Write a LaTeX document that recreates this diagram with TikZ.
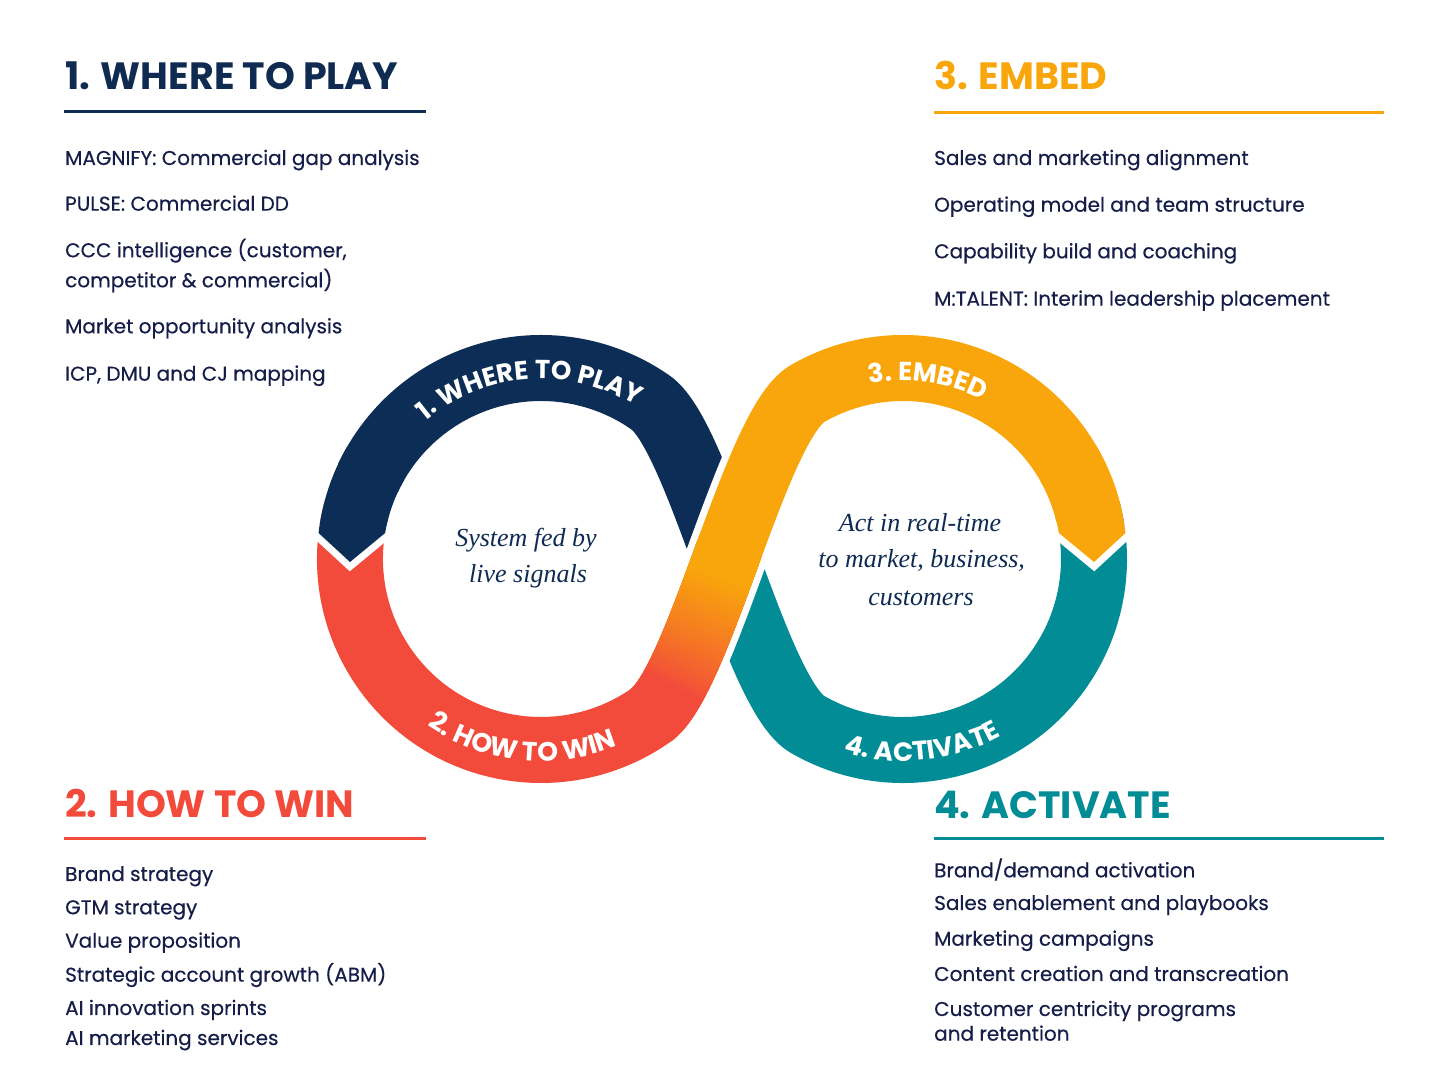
\documentclass[tikz,border=0pt]{standalone}
\usepackage{fontspec}
\newfontfamily\pop{Poppins}
\newfontfamily\popm{Poppins}[FakeBold=0.35]
\newfontfamily\serit{Liberation Serif}
\usetikzlibrary{decorations.text,calc}
\definecolor{navy}{HTML}{0C2D56}
\definecolor{rd}{HTML}{F24A3B}
\definecolor{orng}{HTML}{F9A60C}
\definecolor{teal2}{HTML}{028C95}
\definecolor{ink}{HTML}{151D48}
\definecolor{hnavy}{HTML}{0F2B52}
\newcommand\ringfont{\pop\bfseries\fontsize{26}{26}\selectfont}
\newcommand\ringfontb{\pop\bfseries\fontsize{26.5}{26}\selectfont}
\begin{document}
\begin{tikzpicture}[x=1pt,y=1pt,line cap=butt,
  ring/.style={line width=66pt},
  notch/.style={white,line width=14pt,line join=miter},
  head/.style={anchor=base west,inner sep=0pt,font=\pop\bfseries\fontsize{38}{38}\selectfont},
  item/.style={anchor=base west,inner sep=0pt,font=\popm\fontsize{20}{20}\selectfont,text=ink},
  centertxt/.style={anchor=base,inner sep=0pt,font=\serit\itshape\fontsize{26}{26}\selectfont,text=hnavy},
  ringtxt/.style={decorate,decoration={text along path,text align=center,text color=white,text={#1}}}]
\useasboundingbox (0,0) rectangle (1448,1086);
\fill[white] (0,0) rectangle (1448,1086);
\coordinate (L) at (541,527);
\coordinate (R) at (903,527);
% under path
\draw[ring,navy] ($(L)+(155:191)$) arc[start angle=155,end angle=55,radius=191]
  .. controls (675.13,666.24) and (701.37,593.27) .. (727.97,520.86);
\draw[ring,teal2] (727.97,520.86) .. controls (754.57,448.45) and (781.52,376.59) .. (807.5,361.59)
  arc[start angle=240,end angle=375,radius=191];
% gap
\draw[line width=80pt,white] (650.55,370.54) .. controls (699.70,404.98) and (755.54,662.41) .. (807.5,692.41);
% orange
\draw[ring,orng] (650.55,370.54) .. controls (699.70,404.98) and (755.54,662.41) .. (807.5,692.41)
  arc[start angle=120,end angle=12,radius=191];
% red
\draw[ring,rd] ($(L)+(165:191)$) arc[start angle=165,end angle=305,radius=191]
  .. controls (675.13,387.76) and (701.37,460.73) .. (727.97,533.14);
% gradient
\foreach \k in {0,...,52}{
  \pgfmathsetmacro\t{\k*0.01}
  \path (650.55,370.54) .. controls (699.70,404.98) and (755.54,662.41) .. (807.5,692.41) coordinate[pos=\t] (g\k);
}
\foreach \k in {0,...,50}{
  \pgfmathtruncatemacro\ka{\k+1}
  \pgfmathtruncatemacro\kb{\k+2}
  \pgfmathtruncatemacro\f{max(0,min(100,(\k-14)*10/3))}
  \draw[ring,line join=round,color=orng!\f!rd] (g\k)--(g\ka)--(g\kb);
}
% chevrons
\coordinate (ntip) at (350,524);
\coordinate (noc) at (318.52,553);
\coordinate (nic) at (385.15,553);
\draw[notch] ($(ntip)!1.4!(noc)$) -- (ntip) -- ($(ntip)!1.4!(nic)$);
\fill[navy] ($(L)+(150:224)$) arc[start angle=150,end angle=173.33,radius=224] -- (ntip) -- (nic)
  arc[start angle=170.53,end angle=150,radius=158] -- cycle;
\coordinate (otip) at (1094,524);
\coordinate (ooc) at (1125.48,553);
\coordinate (oic) at (1058.85,553);
\draw[notch] ($(otip)!1.4!(ooc)$) -- (otip) -- ($(otip)!1.4!(oic)$);
\fill[orng] ($(R)+(30:224)$) arc[start angle=30,end angle=6.67,radius=224] -- (otip) -- (oic)
  arc[start angle=9.47,end angle=30,radius=158] -- cycle;
% ring texts
\path[ringtxt={|\ringfont|1. WHERE TO PL{AY}}] ($(L)+(164:180)$) arc[start angle=164,end angle=24,radius=180];
\path[ringtxt={|\ringfontb|2.~HOW~TO~WIN}] ($(L)+(194:202)$) arc[start angle=194,end angle=334,radius=202];
\path[ringtxt={|\ringfont|3. EMBED}] ($(R)+(152:178)$) arc[start angle=152,end angle=12,radius=178];
\path[ringtxt={|\ringfontb|4.~ACTIV{AT}E}] ($(R)+(206:202)$) arc[start angle=206,end angle=346,radius=202];
% centre texts
\node[centertxt] (c1) at (526,539.3) {System fed by};
\node[centertxt] (c2) at (528,503) {live signals};
\node[centertxt] (c3) at (920,554.3) {Act in real-time};
\node[centertxt] (c4) at (921.7,518) {to market, business,};
\node[centertxt] (c5) at (921,480) {customers};
% block 1
\node[head,text=hnavy] (h1) at (65,996) {1. WHERE TO PLAY};
\draw[hnavy,line width=3pt] (64,974.3) -- (426,974.3);
\node[item] (a1) at (65,921) {MAGNIFY: Commercial gap analysis};
\node[item] (a2) at (65,875.3) {PULSE: Commercial DD};
\node[item] (a3) at (65,828.7) {CCC intelligence (customer,};
\node[item] (a4) at (65,798.7) {competitor \& commercial)};
\node[item] (a5) at (65,752.7) {Market opportunity analysis};
\node[item] (a6) at (65,705.3) {ICP, DMU and CJ mapping};
% block 3
\node[head,text=orng] (h3) at (934,996) {3. EMBED};
\draw[orng,line width=3pt] (934,973.3) -- (1384,973.3);
\node[item] (b1) at (934,921) {Sales and marketing alignment};
\node[item] (b2) at (934,874.3) {Operating model and team structure};
\node[item] (b3) at (934,827.7) {Capability build and coaching};
\node[item] (b4) at (934,780.3) {M:TALENT: Interim leadership placement};
% block 2
\node[head,text=rd] (h2) at (65,268.3) {2. HOW TO WIN};
\draw[rd,line width=3pt] (64,247.7) -- (426,247.7);
\node[item] (d1) at (65,205) {Brand strategy};
\node[item] (d2) at (65,171.7) {GTM strategy};
\node[item] (d3) at (65,138.3) {Value proposition};
\node[item] (d4) at (65,104.3) {Strategic account growth (ABM)};
\node[item] (d5) at (65,71) {AI innovation sprints};
\node[item] (d6) at (65,41) {AI marketing services};
% block 4
\node[head,text=teal2] (h4) at (934,267.7) {4. ACTIVATE};
\draw[teal2,line width=3pt] (934,247.7) -- (1384,247.7);
\node[item] (e1) at (934,208.7) {Brand/demand activation};
\node[item] (e2) at (934,176) {Sales enablement and playbooks};
\node[item] (e3) at (934,140.3) {Marketing campaigns};
\node[item] (e4) at (934,105) {Content creation and transcreation};
\node[item] (e5) at (934,70) {Customer centricity programs};
\node[item] (e6) at (934,45.3) {and retention};
\end{tikzpicture}
\end{document}
